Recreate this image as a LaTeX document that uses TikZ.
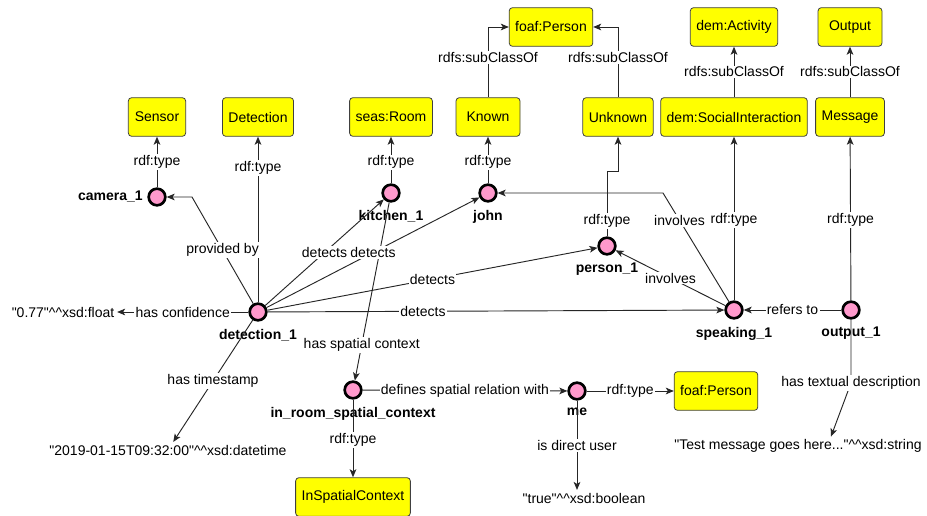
\documentclass[tikz,border=0pt]{standalone}
\usepackage{fontspec}
\setmainfont{Liberation Sans}
\usetikzlibrary{arrows.meta, positioning, calc}

\definecolor{indpink}{RGB}{255,153,204}
\definecolor{clsyellow}{RGB}{255,255,0}

\tikzset{
  cls/.style={rectangle, rounded corners=2.5pt, draw=black!75, line width=0.6pt, fill=clsyellow,
    minimum height=29pt, minimum width=48pt, inner xsep=4.5pt},
  ind/.style={circle, draw, line width=2pt, fill=indpink, minimum size=12.5pt, inner sep=0pt},
  lit/.style={inner sep=2pt},
  lbl/.style={fill=white, inner sep=1pt},
  conn/.style={draw=black!85, line width=0.7pt}
}

\begin{document}
\begin{tikzpicture}[x=0.75pt, y=-0.75pt, >={Stealth[length=6pt,width=5pt,inset=1.5pt]},
  every node/.style={font=\fontsize{10.5}{12}\selectfont},
  every label/.style={font=\fontsize{10.5}{12}\selectfont\bfseries, label distance=2pt}]
\useasboundingbox[fill=white] (0,0) rectangle (927,516);

%classes
\node[cls, minimum width=43pt] (sensor) at (157,117) {Sensor};
\node[cls] (detcls) at (258,117) {Detection};
\node[cls] (room) at (391,117) {seas:Room};
\node[cls] (known) at (488,117) {Known};
\node[cls] (fperson) at (551,27) {foaf:Person};
\node[cls] (unknown) at (618,117) {Unknown};
\node[cls] (activity) at (734,27) {dem:Activity};
\node[cls] (social) at (734,117) {dem:SocialInteraction};
\node[cls] (output) at (850,27) {Output};
\node[cls] (message) at (850,117) {Message};
\node[cls] (fperson2) at (716,391) {foaf:Person};
\node[cls] (spatial) at (353,497) {InSpatialContext};

%individuals
\node[ind, label={[label distance=0pt]left:camera\_1}] (cam) at (157,197) {};
\node[ind, label=below:detection\_1] (det) at (258,312) {};
\node[ind, label=below:kitchen\_1] (kit) at (391,193) {};
\node[ind, label=below:john] (john) at (488,193) {};
\node[ind, label=below:person\_1] (pers) at (607,246) {};
\node[ind, label=below:speaking\_1] (spk) at (734,310) {};
\node[ind, label=below:output\_1] (out) at (851,310) {};
\node[ind, label=below:in\_room\_spatial\_context] (ctx) at (353,390) {};
\node[ind, label=below:me] (me) at (577,391) {};

%literals
\node[lit] (flt) at (63,312) {\textquotedbl0.77\textquotedbl\textasciicircum\textasciicircum xsd:float};
\node[lit] (dtm) at (168,450) {\textquotedbl2019-01-15T09:32:00\textquotedbl\textasciicircum\textasciicircum xsd:datetime};
\node[lit] (bool) at (584,498) {\textquotedbl true\textquotedbl\textasciicircum\textasciicircum xsd:boolean};
\node[lit] (str) at (798,446) {\textquotedbl Test message goes here...\textquotedbl\textasciicircum\textasciicircum xsd:string};

%bends
\coordinate (cbend) at (192,197);
\coordinate (pbend) at (607,171);
\coordinate (jbend) at (663,193);
\coordinate (obend) at (851,383);

%connections
\draw[conn,->] (kit) -- node[lbl,pos=0.8]{has spatial context} (ctx);
\draw[conn,->] (cam) -- node[lbl]{rdf:type} (sensor);
\draw[conn,->] (det) -- node[lbl,pos=0.81]{rdf:type} (detcls);
\draw[conn,->] (kit) -- node[lbl,pos=0.45]{rdf:type} (room);
\draw[conn,->] (john) -- node[lbl,pos=0.45]{rdf:type} (known);
\draw[conn,->] (known) |- node[lbl,pos=0.285]{rdfs:subClassOf} (fperson);
\draw[conn,->] (unknown) |- node[lbl,pos=0.285]{rdfs:subClassOf} (fperson);
\draw[conn,->] (pers) -- node[lbl,pos=0.24]{rdf:type} (pbend) -| (unknown);
\draw[conn,->] (social) -- node[lbl]{rdfs:subClassOf} (activity);
\draw[conn,->] (message) -- node[lbl]{rdfs:subClassOf} (output);
\draw[conn,->] (spk) -- node[lbl,pos=0.49]{rdf:type} (social);
\draw[conn,->] (out) -- node[lbl,pos=0.49]{rdf:type} (message);

\draw[conn,->] (det) -- node[lbl]{provided by} (cbend) -- (cam);
\draw[conn,->] (det) -- node[lbl]{detects} (kit);
\draw[conn,->] (det) -- node[lbl]{detects} (john);
\draw[conn,->] (det) -- node[lbl]{detects} (pers);
\draw[conn,->] (det) -- node[lbl,pos=0.34]{detects} (spk);
\draw[conn,->] (det) -- node[lbl]{has confidence} (flt);
\draw[conn,->] (det) -- node[lbl]{has timestamp} (dtm);

\draw[conn,->] (ctx) -- node[lbl]{defines spatial relation with} (me);
\draw[conn,->] (ctx) -- node[lbl,pos=0.52]{rdf:type} (spatial);
\draw[conn,->] (me) -- node[lbl]{rdf:type} (fperson2);
\draw[conn,->] (me) -- node[lbl]{is direct user} (me |- bool.north);

\draw[conn,->] (out) -- node[lbl]{refers to} (spk);
\draw[conn,->] (spk) -- node[lbl]{involves} (pers);
\draw[conn,->] (spk) -- node[lbl,pos=0.75]{involves} (jbend) -- (john);
\draw[conn,->] (out) -- (obend) node[lbl]{has textual description} -- (str.16);
\end{tikzpicture}
\end{document}
